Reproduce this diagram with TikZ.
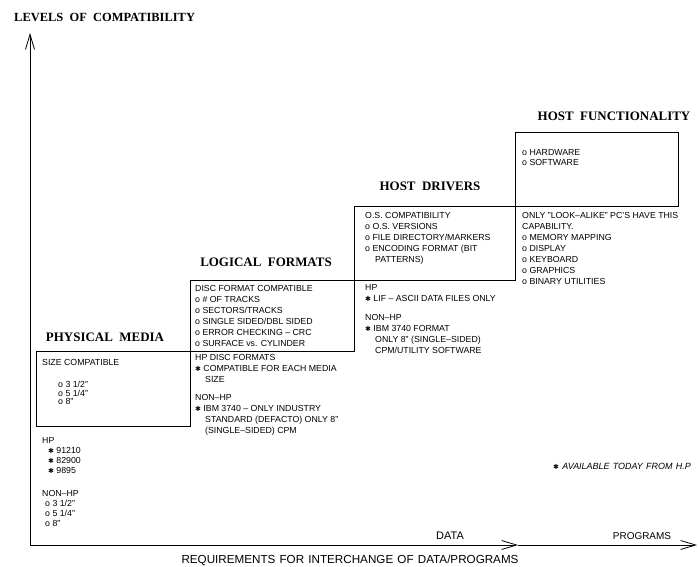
\documentclass[tikz,border=0pt]{standalone}
\usepackage{fontspec}
\setmainfont{Liberation Sans}
\newfontfamily\titlef{Liberation Serif}[WordSpace=2]
\newfontfamily\symf{DejaVu Sans}
\newfontfamily\wides{Liberation Sans}[WordSpace=2.2]
\newfontfamily\legf{Liberation Sans}[WordSpace=1.3]
\usetikzlibrary{arrows.meta}
\newcommand\hstar{{\symf\fontsize{7}{7}\selectfont ✱}}
\tikzset{
  title/.style={font=\titlef\bfseries\fontsize{13}{13}\selectfont, inner sep=0pt},
  txt/.style={font=\fontsize{8.8}{11}\selectfont, align=left, anchor=north west, inner sep=0pt},
  box/.style={draw, line width=0.8bp, minimum width=0pt},
  axis/.style={line width=0.8bp, -{Straight Barb[length=15bp,width=9bp,line width=0.8bp]}},
}
\begin{document}
\begin{tikzpicture}[x=1bp,y=-1bp]
\useasboundingbox (0,0) rectangle (699,567);
% axes
\coordinate (O) at (30,545);
\coordinate (ytip) at (30,33);
\coordinate (dtip) at (518,545);
\coordinate (ptip) at (697,545);
\draw[axis] (O) -- (ytip);
\draw[axis] (O) -- (dtip);
\draw[axis] (dtip) -- (ptip);
\node[font=\titlef\bfseries\fontsize{12.5}{12.5}\selectfont, anchor=west, inner sep=0pt] (ylab) at (14,17) {LEVELS OF COMPATIBILITY};
\node[font=\wides\fontsize{11.7}{11.7}\selectfont, inner sep=0pt] (xlab) at (350,560) {REQUIREMENTS FOR INTERCHANGE OF DATA/PROGRAMS};
\node[font=\fontsize{11}{11}\selectfont, inner sep=0pt] (data) at (450,536) {DATA};
\node[font=\fontsize{10}{10}\selectfont, inner sep=0pt] (prog) at (642,536) {PROGRAMS};
\node[font=\itshape\legf\fontsize{9}{9}\selectfont, anchor=west, inner sep=0pt] (legend) at (553,466) {\hstar\ AVAILABLE TODAY FROM H.P};
% boxes (staircase)
\coordinate (pmNW) at (36,351);   \coordinate (pmSE) at (190,426);
\coordinate (lfNW) at (190,280);  \coordinate (lfSE) at (354,351);
\coordinate (hdNW) at (354,206);  \coordinate (hdSE) at (515,280);
\coordinate (hfNW) at (515,132);  \coordinate (hfSE) at (678,206);
\draw[box] (pmNW) rectangle (pmSE);
\draw[box] (lfNW) rectangle (lfSE);
\draw[box] (hdNW) rectangle (hdSE);
\draw[box] (hfNW) rectangle (hfSE);
% titles
\node[title] (pmt) at (105,337) {PHYSICAL MEDIA};
\node[title] (lft) at (266,262) {LOGICAL FORMATS};
\node[title] (hdt) at (430,186) {HOST DRIVERS};
\node[title] (hft) at (614,116) {HOST FUNCTIONALITY};
% physical media
\node[txt] (pm1) at (42,359) {SIZE COMPATIBLE};
\node[txt, font=\fontsize{8.8}{8.5}\selectfont] (pm2) at (58,381) {o 3 1/2"\\o 5 1/4"\\o 8"};
\node[txt, font=\fontsize{8.8}{10}\selectfont] (pm3) at (42,437) {HP\\\hspace{6bp}\hstar\ 91210\\\hspace{6bp}\hstar\ 82900\\\hspace{6bp}\hstar\ 9895};
\node[txt, font=\fontsize{8.8}{10}\selectfont] (pm4) at (42,490) {NON--HP\\\hspace{3bp}o 3 1/2"\\\hspace{3bp}o 5 1/4"\\\hspace{3bp}o 8"};
% logical formats
\node[txt] (lf1) at (195,285) {DISC FORMAT COMPATIBLE\\o \# OF TRACKS\\o SECTORS/TRACKS\\o SINGLE SIDED/DBL SIDED\\o ERROR CHECKING -- CRC\\o SURFACE vs. CYLINDER};
\node[txt] (lf2) at (195,354) {HP DISC FORMATS\\\hstar\ COMPATIBLE FOR EACH MEDIA\\\hspace{10bp}SIZE};
\node[txt] (lf3) at (195,394) {NON--HP\\\hstar\ IBM 3740 -- ONLY INDUSTRY\\\hspace{10bp}STANDARD (DEFACTO) ONLY 8"\\\hspace{10bp}(SINGLE--SIDED) CPM};
% host drivers
\node[txt] (hd1) at (365,212) {O.S. COMPATIBILITY\\o O.S. VERSIONS\\o FILE DIRECTORY/MARKERS\\o ENCODING FORMAT (BIT\\\hspace{10bp}PATTERNS)};
\node[txt] (hd2) at (365,284) {HP\\\hstar\ LIF -- ASCII DATA FILES ONLY};
\node[txt] (hd3) at (365,314) {NON--HP\\\hstar\ IBM 3740 FORMAT\\\hspace{10bp}ONLY 8" (SINGLE--SIDED)\\\hspace{10bp}CPM/UTILITY SOFTWARE};
% host functionality
\node[txt, font=\fontsize{8.8}{10}\selectfont] (hf1) at (522,149) {o HARDWARE\\o SOFTWARE};
\node[txt] (hf2) at (522,212) {ONLY "LOOK--ALIKE" PC'S HAVE THIS\\CAPABILITY.\\o MEMORY MAPPING\\o DISPLAY\\o KEYBOARD\\o GRAPHICS\\o BINARY UTILITIES};
\end{tikzpicture}
\end{document}
